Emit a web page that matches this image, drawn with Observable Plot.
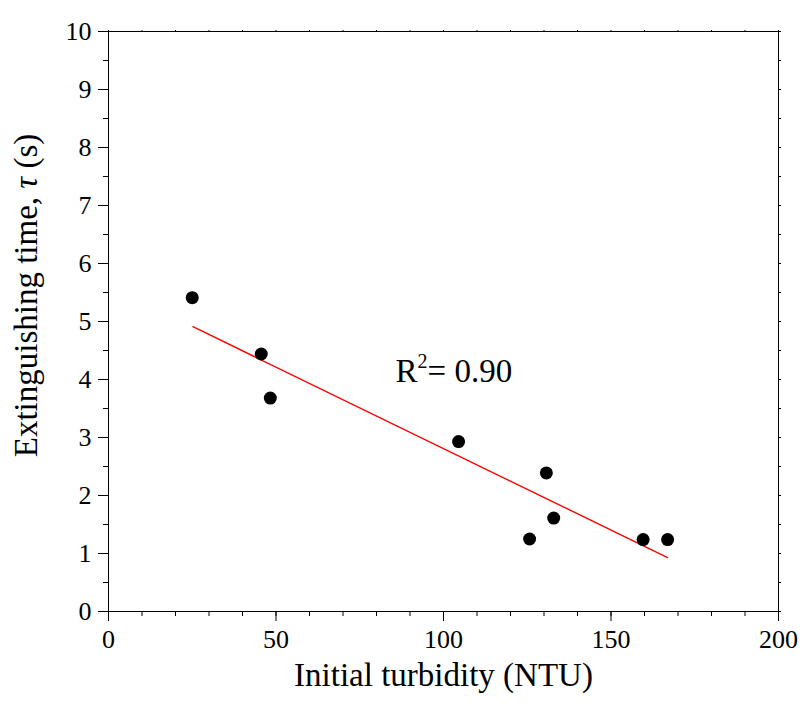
<!DOCTYPE html>
<html>
<head>
<meta charset="utf-8">
<script src="https://cdn.jsdelivr.net/npm/d3@7"></script>
<script src="https://cdn.jsdelivr.net/npm/@observablehq/plot@0.6"></script>
<style>
  html, body { margin: 0; padding: 0; background: white; }
  svg text, svg tspan { font-family: "Liberation Serif", "Times New Roman", serif !important; font-variant-numeric: normal !important; }
</style>
</head>
<body>
<div id="chart"></div>
<script>
// Data
const turbidity = [25.0, 45.6, 48.3, 104.5, 125.7, 130.7, 132.9, 159.6, 166.9];
const extTime   = [5.41, 4.44, 3.68, 2.93, 1.25, 2.39, 1.61, 1.24, 1.24];
// Linear fit line endpoints
const fitX = [25.2, 166.9];
const fitY = [4.91, 0.93];
// Ticks
const xMajorTicks = [0, 50, 100, 150, 200];
const xMinorTicks = [0, 10, 20, 30, 40, 50, 60, 70, 80, 90, 100, 110, 120, 130, 140, 150, 160, 170, 180, 190, 200];
const yMajorTicks = [0, 1, 2, 3, 4, 5, 6, 7, 8, 9, 10];
const yMinorTicks = [0, 0.5, 1, 1.5, 2, 2.5, 3, 3.5, 4, 4.5, 5, 5.5, 6, 6.5, 7, 7.5, 8, 8.5, 9, 9.5, 10];
// Labels
const xLabel = "Initial turbidity (NTU)";
const yLabel = "Extinguishing time, τ (s)";
const r2Text = "R2= 0.90";
const r2Pos = {x: 85.7, y: 4.14};

const points = turbidity.map((t, i) => ({x: t, y: extTime[i]}));
const fit = fitX.map((t, i) => ({x: t, y: fitY[i]}));
const serif = "Liberation Serif";

const chart = Plot.plot({
  width: 811,
  height: 709,
  marginLeft: 108,
  marginRight: 33,
  marginTop: 31,
  marginBottom: 98,
  x: {domain: [0, 200]},
  y: {domain: [0, 10]},
  style: {fontFamily: serif, fontSize: "26px", color: "black", background: "white"},
  marks: [
    Plot.axisX({anchor: "bottom", ticks: xMajorTicks, tickSize: 10, tickPadding: 8, fontSize: 26, fontFamily: serif, fontVariant: "normal", label: null, tickFormat: d => String(d)}),
    Plot.axisX({anchor: "bottom", ticks: xMinorTicks, tickSize: 5, text: null, label: null}),
    Plot.axisX({anchor: "top", ticks: xMinorTicks, tickSize: 2, text: null, label: null}),
    Plot.axisY({anchor: "left", ticks: yMajorTicks, tickSize: 10, tickPadding: 7, fontSize: 26, fontFamily: serif, fontVariant: "normal", label: null, tickFormat: d => String(d)}),
    Plot.axisY({anchor: "left", ticks: yMinorTicks, tickSize: 5, text: null, label: null}),
    Plot.axisY({anchor: "right", ticks: yMinorTicks, tickSize: 2, text: null, label: null}),
    Plot.frame({stroke: "black", strokeWidth: 1}),
    Plot.line(fit, {x: "x", y: "y", stroke: "#ff0000", strokeWidth: 1.4}),
    Plot.dot(points, {x: "x", y: "y", r: 6.5, fill: "black", stroke: null}),
    Plot.text([r2Text], {x: () => r2Pos.x, y: () => r2Pos.y, text: d => d, textAnchor: "start", lineAnchor: "middle", fontSize: 33, fontFamily: serif, fill: "black"}),
    Plot.text([xLabel], {frameAnchor: "bottom", text: d => d, textAnchor: "middle", dy: 64, lineAnchor: "middle", fontSize: 33, fontFamily: serif, fill: "black"}),
    Plot.text([yLabel], {frameAnchor: "left", text: d => d, textAnchor: "middle", rotate: -90, dx: -82, dy: -26, lineAnchor: "middle", fontSize: 33, fontFamily: serif, fill: "black"})
  ]
});

const ns = "http://www.w3.org/2000/svg";
chart.querySelectorAll("text").forEach(t => {
  t.style.fontFamily = '"Liberation Serif", "Times New Roman", serif';
  t.style.fontVariantNumeric = "normal";
  // italic tau in the y label
  if (t.textContent === yLabel) {
    t.textContent = "";
    t.appendChild(document.createTextNode("Extinguishing time, "));
    const ts = document.createElementNS(ns, "tspan");
    ts.setAttribute("font-style", "italic");
    ts.textContent = "τ";
    t.appendChild(ts);
    t.appendChild(document.createTextNode(" (s)"));
  }
  // superscript 2 in R²
  if (t.textContent === r2Text) {
    t.textContent = "";
    t.appendChild(document.createTextNode("R"));
    const sup = document.createElementNS(ns, "tspan");
    sup.setAttribute("font-size", "20");
    sup.setAttribute("dy", "-14");
    sup.textContent = "2";
    t.appendChild(sup);
    const rest = document.createElementNS(ns, "tspan");
    rest.setAttribute("dy", "14");
    rest.textContent = "= 0.90";
    t.appendChild(rest);
  }
});

document.getElementById("chart").appendChild(chart);
</script>
</body>
</html>
